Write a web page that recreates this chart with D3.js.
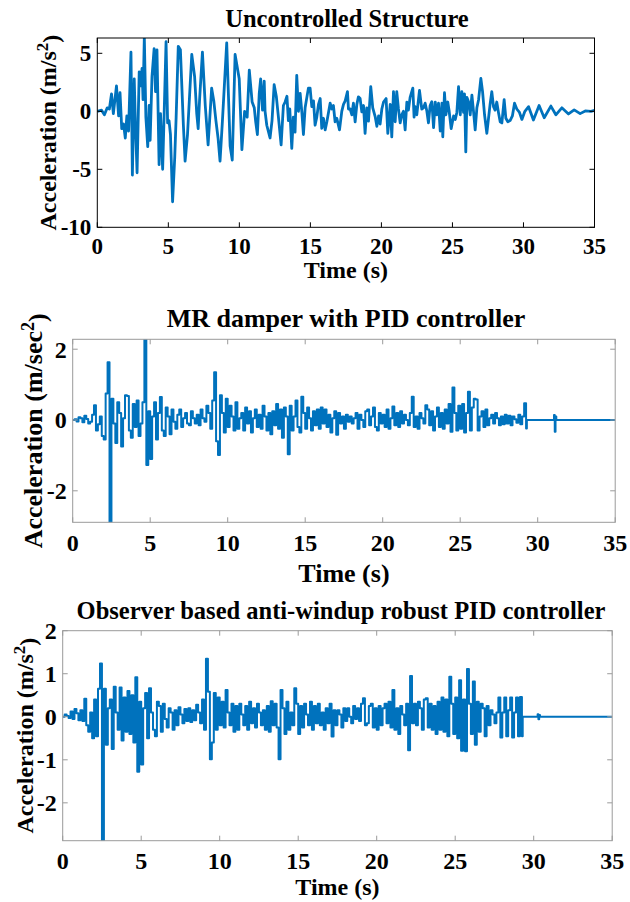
<!DOCTYPE html>
<html>
<head>
<meta charset="UTF-8">
<style>
  body { margin: 0; background: #fff; }
  svg text { font-family: 'Liberation Serif', 'Times New Roman', serif; font-weight: bold; fill: #000; }
</style>
</head>
<body>
<svg id="chart" width="630" height="902"></svg>
<script src="https://d3js.org/d3.v7.min.js"></script>
<script>
// ---- data ----
// uncontrolled structure: time (s) / acceleration (m/s^2)
const uncT = [0,0.3,0.5,0.7,0.85,1.0,1.13,1.35,1.5,1.6,1.72,1.85,1.97,2.08,2.2,2.37,2.47,2.6,2.68,2.8,2.95,3.05,3.15,3.22,3.31,3.42,3.55,3.65,3.72,3.85,4.0,4.1,4.2,4.35,4.45,4.6,4.7,4.84,4.95,5.05,5.15,5.3,5.45,5.55,5.7,5.85,6.06,6.18,6.35,6.65,6.85,7.0,7.1,7.2,7.4,7.6,7.8,8.05,8.2,8.35,8.5,8.64,8.8,9.11,9.35,9.5,9.7,9.99,10.18,10.37,10.55,10.7,10.9,11.05,11.15,11.27,11.4,11.5,11.63,11.75,11.81,11.93,12.16,12.3,12.45,12.6,12.75,12.94,13.1,13.22,13.35,13.45,13.55,13.69,13.8,13.92,14.04,14.16,14.28,14.4,14.51,14.63,14.86,14.98,15.1,15.22,15.33,15.45,15.57,15.69,15.8,15.92,16.04,16.16,16.39,16.51,16.62,16.74,16.86,17.05,17.21,17.33,17.45,17.61,17.68,17.8,17.92,18.03,18.15,18.27,18.38,18.5,18.62,18.74,18.85,18.97,19.09,19.25,19.39,19.56,19.68,19.8,19.91,20.03,20.15,20.33,20.45,20.62,20.73,20.85,20.97,21.08,21.2,21.32,21.43,21.55,21.67,21.79,21.9,22.02,22.21,22.3,22.37,22.49,22.68,22.84,22.96,23.08,23.2,23.31,23.43,23.55,23.67,23.79,23.9,24.02,24.14,24.26,24.32,24.44,24.54,24.67,24.77,24.91,25.08,25.2,25.31,25.43,25.55,25.66,25.78,25.85,25.94,26.02,26.14,26.25,26.37,26.49,26.6,26.72,26.84,27.0,27.12,27.26,27.42,27.65,27.77,27.89,28.0,28.12,28.24,28.36,28.48,28.64,28.76,28.9,29.06,29.22,29.37,29.53,29.72,29.89,30.1,30.36,30.7,31.1,31.46,31.93,32.28,32.7,33.17,33.57,33.99,34.35,34.75,35.0];
const uncA = [0,0.1,-0.3,0.3,0.2,1.5,-0.2,2.2,-0.4,1.6,-1.5,-1.1,-2.3,-0.4,-1.7,5.1,-5.5,2.8,-1.0,-5.3,3.4,2.2,3.7,1.0,6.4,-0.5,-3.05,0.5,-2.5,3.0,5.4,1.7,5.3,-4.6,-0.2,-5.0,-0.5,6.0,-1.0,-0.8,-2.0,-7.8,-4.0,-0.5,5.6,5.3,-1.2,-4.3,-2.0,4.9,3.0,-0.2,-1.5,1.0,5.1,0.5,-2.9,2.0,0.9,-0.8,-2.3,-4.3,-1.0,5.9,-3.0,-4.2,4.9,2.8,-3.3,0,-0.5,3.55,0.8,0.3,-0.9,-2.0,1.55,2.8,0.1,2.6,0,-1.2,-2.3,-0.8,2.3,1.3,-0.5,-2.9,0.5,0.8,1.3,-0.8,0.2,-3.2,-0.5,-1.8,3.1,0,1.55,-0.1,-2.0,0.3,2.0,2.0,0.4,0.9,-1.2,-0.5,0.6,1.1,-1.47,-0.6,-1.6,-0.9,0.7,0.2,0.5,-0.9,-0.6,-1.6,0,0.6,0.9,1.7,0.2,0.2,-0.3,0.7,-0.9,0.6,1.25,1.1,-0.05,0.5,-1.9,0.3,-0.85,2.12,0.3,-0.45,-1.3,-0.4,-1.1,0.2,0.8,1.1,-1.9,0.6,-2.2,1.7,-0.9,1.7,0.2,-1.0,-0.3,0.0,-1.6,0.8,0.1,1.2,2.0,-0.5,0.4,-0.3,1.8,0.2,0.3,0.7,0,-1.0,0.5,0.83,-1.4,0.8,-0.3,0.7,-1.7,0.7,-2.2,1.6,-0.3,0.8,0.0,-1.5,-0.4,-0.7,-0.1,2.12,-0.3,1.7,-0.1,1.5,-3.5,1.2,0.8,-0.3,1.4,-0.1,-1.6,0.3,1.0,2.84,1.7,-0.3,-1.9,0.6,1.7,0.4,0.1,0.8,-0.1,-0.9,-1.0,1.0,-0.6,-0.9,-0.8,-0.4,0.7,0.2,-0.1,-0.7,0.0,0.4,-0.75,0.5,-0.55,0.45,-0.3,0.3,-0.23,0.12,-0.2,0.03,0,0.08];

// controlled responses held every 1/8 s up to 29.25 s, then a quiet tail
const sampleStep = 0.125;
const mrA = [
  0,0.02,-0.04,0.08,0.05,-0.06,0.12,0.03,
  -0.1,-0.05,0.15,0.42,-0.3,-0.12,0.1,-0.45,
  -0.55,0.75,1.63,-2.95,0.6,-0.1,-0.65,0.5,
  0.2,-0.75,0.05,0.7,0.68,-0.3,-0.5,0.45,
  -0.2,0.55,-0.45,-0.1,0.5,2.6,-1.27,0.25,
  -1.1,0.1,0.5,-0.55,0.2,0.65,-0.3,-0.45,
  0.35,0.1,-0.4,0.3,-0.05,-0.25,0.15,0.3,
  -0.2,0.05,0.2,-0.1,-0.15,0.25,0.05,-0.1,
  0.15,-0.15,0.3,0.05,-0.05,0.4,0.2,-0.25,
  0.55,1.35,-0.6,-0.99,0.7,0.2,-0.35,0.6,
  -0.2,0.4,0.1,-0.3,0.5,-0.25,0.05,0.2,
  -0.3,0.35,-0.1,0.25,-0.35,0.05,0.3,-0.2,
  0.15,-0.25,0.4,0.1,-0.3,0.2,-0.4,0.25,
  -0.15,0.45,-0.25,0.3,-0.5,0.35,0.1,-0.97,
  0.4,-0.3,0.1,0.55,-0.2,-0.35,0.66,0.2,
  -0.25,0.35,0.05,-0.3,0.25,-0.15,0.3,-0.25,
  0.35,-0.1,0.3,-0.2,0.15,-0.35,0.05,0.25,
  -0.42,0.2,-0.1,0.1,-0.25,0.15,-0.05,0.1,
  -0.1,0.05,0.2,-0.25,0.15,0.0,-0.2,0.25,
  0.3,-0.15,0.1,0.35,-0.2,-0.3,0.2,-0.1,
  0.15,-0.2,0.3,-0.25,0.05,0.38,-0.15,0.2,
  -0.2,0.25,-0.1,0.15,0.0,-0.15,0.2,0.66,
  -0.2,0.1,-0.25,0.2,0.05,-0.1,0.42,0.3,
  -0.15,0.25,-0.3,0.1,0.35,-0.2,0.2,-0.25,
  0.3,-0.1,0.45,-0.33,0.92,0.2,-0.3,0.4,
  -0.25,0.45,-0.35,0.2,0.8,-0.3,0.35,0.6,
  0.58,-0.3,0.1,0.25,-0.2,0.3,-0.15,0.05,
  0.15,-0.1,0.2,0.05,-0.15,0.1,-0.12,0.15,
  -0.1,0.12,-0.15,0.1,0.02,-0.08,0.15,-0.12,
  0.1,0.47,-0.24
];
const mrTailT = [29.3,31.0,31.05,31.1,31.15,31.2,35];
const mrTailA = [0,0,0.14,-0.33,0.1,0,0];

const obsA = [
  0,0.05,0.02,-0.03,0.12,-0.05,0.18,0.08,
  -0.08,0.15,-0.1,0.42,-0.2,-0.35,0.1,-0.5,
  0.4,-0.45,0.65,1.24,-2.95,0.65,-0.65,0.2,
  0.4,-0.75,0.7,0.1,-0.3,0.68,-0.55,0.45,
  -0.35,0.6,-0.4,0.5,-0.6,0.92,-1.28,0.35,
  -1.11,0.2,0.55,-0.5,0.66,0.1,-0.3,-0.45,
  0.35,0.25,-0.35,0.3,-0.05,-0.25,0.2,0.1,
  -0.3,0.15,-0.2,0.22,0.05,-0.15,0.18,-0.1,
  0.2,-0.12,0.15,-0.08,0.28,0.1,-0.15,0.4,
  -0.3,1.35,0.58,-0.99,-0.6,0.55,-0.3,0.45,
  -0.2,0.35,-0.25,0.62,0.1,-0.2,0.3,-0.35,
  0.25,-0.3,0.3,0.05,-0.2,0.25,-0.3,0.35,
  -0.15,0.2,-0.25,0.3,0.1,-0.2,0.15,-0.3,
  0.25,-0.35,0.36,-0.2,0.3,-0.25,-0.99,0.62,
  0.2,-0.4,0.35,-0.3,0.1,-0.2,0.66,0.3,
  -0.4,0.25,-0.25,0.3,0.05,-0.2,0.35,-0.3,
  0.25,-0.15,0.3,-0.2,0.1,-0.3,0.2,-0.15,
  0.3,-0.46,0.15,-0.2,0.15,0.05,-0.25,0.2,
  -0.1,0.2,0.0,-0.15,0.25,-0.05,0.2,-0.1,
  0.3,0.43,-0.2,-0.15,0.25,0.3,-0.25,0.2,
  -0.3,0.25,-0.2,0.2,0.3,-0.15,0.35,-0.25,
  0.62,-0.3,0.2,-0.4,0.25,0.05,-0.2,0.3,
  -0.78,0.95,-0.15,0.3,-0.2,0.35,0.2,-0.3,
  0.4,0.43,-0.25,0.3,-0.3,0.25,-0.4,0.35,
  -0.3,0.45,-0.35,0.4,-0.45,0.93,0.3,-0.4,
  0.45,-0.5,0.85,-0.79,0.4,-0.8,1.11,0.3,
  -0.4,0.82,-0.65,0.35,-0.35,0.3,0.2,-0.45,
  0.25,-0.2,0.15,0.05,-0.15,0.1,0.45,-0.48,
  0.1,0.45,-0.45,0.15,0.45,-0.48,0.1,0.45,
  -0.45,0.46,-0.45
];
const obsTailT = [29.3,30.2,30.25,30.3,30.35,30.4,35];
const obsTailA = [0,0,0.06,-0.06,0.04,0,0];

const timeTicks = [0,5,10,15,20,25,30,35];
const uncTicks = [-10,-5,0,5];
const mrTicks = [-2,0,2];
const obsTicks = [-2,-1,0,1,2];

const blue = "#0072BD";
const svg = d3.select("#chart");

function toPoints(ts, vs) {
  return ts.map((t, i) => [t, vs[i]]);
}
function sampled(vs, tailT, tailA) {
  let pts = vs.map((v, i) => [i * sampleStep, v]);
  return pts.concat(toPoints(tailT, tailA));
}

function drawPanel(p) {
  let x = d3.scaleLinear().domain([0, 35]).range([p.left, p.right]);
  let y = d3.scaleLinear().domain(p.yDomain).range([p.bottom, p.top]);
  let g = svg.append("g");

  let clipId = "clip" + p.id;
  svg.append("clipPath").attr("id", clipId)
    .append("rect")
    .attr("x", p.left).attr("y", p.top)
    .attr("width", p.right - p.left).attr("height", p.bottom - p.top);

  let line = d3.line().curve(p.curve).x(d => x(d[0])).y(d => y(d[1]));
  g.append("path")
    .datum(p.points)
    .attr("clip-path", "url(#" + clipId + ")")
    .attr("fill", "none")
    .attr("stroke", blue)
    .attr("stroke-width", p.lw)
    .attr("stroke-linejoin", "round")
    .attr("d", line);

  // box + inward ticks on all four sides
  g.append("rect")
    .attr("x", p.left).attr("y", p.top)
    .attr("width", p.right - p.left).attr("height", p.bottom - p.top)
    .attr("fill", "none").attr("stroke", p.axisColor).attr("stroke-width", 1);

  let tickLen = 5;
  timeTicks.forEach(t => {
    g.append("line").attr("x1", x(t)).attr("x2", x(t)).attr("y1", p.bottom).attr("y2", p.bottom - tickLen)
      .attr("stroke", p.axisColor);
    g.append("line").attr("x1", x(t)).attr("x2", x(t)).attr("y1", p.top).attr("y2", p.top + tickLen)
      .attr("stroke", p.axisColor);
    g.append("text").attr("x", x(t)).attr("y", p.tickBase)
      .attr("text-anchor", "middle").attr("font-size", p.tickFont).text(t);
  });
  p.yTicks.forEach(v => {
    g.append("line").attr("x1", p.left).attr("x2", p.left + tickLen).attr("y1", y(v)).attr("y2", y(v))
      .attr("stroke", p.axisColor);
    g.append("line").attr("x1", p.right).attr("x2", p.right - tickLen).attr("y1", y(v)).attr("y2", y(v))
      .attr("stroke", p.axisColor);
    g.append("text").attr("x", p.left - 6).attr("y", y(v)).attr("dy", "0.35em")
      .attr("text-anchor", "end").attr("font-size", p.tickFont).text(String(v));
  });

  // title
  g.append("text").attr("x", p.titleX).attr("y", p.titleBase)
    .attr("text-anchor", "middle").attr("font-size", p.titleFont).text(p.title);
  // x label
  g.append("text").attr("x", (p.left + p.right) / 2).attr("y", p.xlabBase)
    .attr("text-anchor", "middle").attr("font-size", p.labFont).text("Time (s)");
  // y label with superscript
  let yl = g.append("text")
    .attr("transform", "translate(" + p.ylabX + "," + ((p.top + p.bottom) / 2) + ") rotate(-90)")
    .attr("text-anchor", "middle").attr("font-size", p.labFont);
  yl.append("tspan").text("Acceleration (" + p.unit);
  yl.append("tspan").attr("dy", "-0.45em").attr("font-size", p.labFont * 0.7).text("2");
  yl.append("tspan").attr("dy", "0.45em").text(")");
}

drawPanel({
  id: 1, left: 97.3, right: 594.5, top: 38, bottom: 227.3,
  yDomain: [-10, 6.32], yTicks: uncTicks, points: toPoints(uncT, uncA), curve: d3.curveLinear,
  lw: 2.8, axisColor: "#000",
  title: "Uncontrolled Structure", titleX: 347, titleBase: 27, titleFont: 24.5,
  tickBase: 254, tickFont: 23, xlabBase: 278, labFont: 24, ylabX: 56, unit: "m/s"
});
drawPanel({
  id: 2, left: 72.7, right: 615.2, top: 339.3, bottom: 522.3,
  yDomain: [-2.89, 2.28], yTicks: mrTicks, points: sampled(mrA, mrTailT, mrTailA), curve: d3.curveStepAfter,
  lw: 2, axisColor: "#9a9a9a",
  title: "MR damper with PID controller", titleX: 346, titleBase: 327, titleFont: 26,
  tickBase: 551, tickFont: 24, xlabBase: 582, labFont: 26, ylabX: 42, unit: "m/sec"
});
drawPanel({
  id: 3, left: 62.7, right: 612.2, top: 630.7, bottom: 840.7,
  yDomain: [-2.88, 2], yTicks: obsTicks, points: sampled(obsA, obsTailT, obsTailA), curve: d3.curveStepAfter,
  lw: 2, axisColor: "#9a9a9a",
  title: "Observer based anti-windup robust PID controller", titleX: 341, titleBase: 619, titleFont: 24.5,
  tickBase: 869, tickFont: 24, xlabBase: 895, labFont: 24, ylabX: 33, unit: "m/s"
});
</script>
</body>
</html>
